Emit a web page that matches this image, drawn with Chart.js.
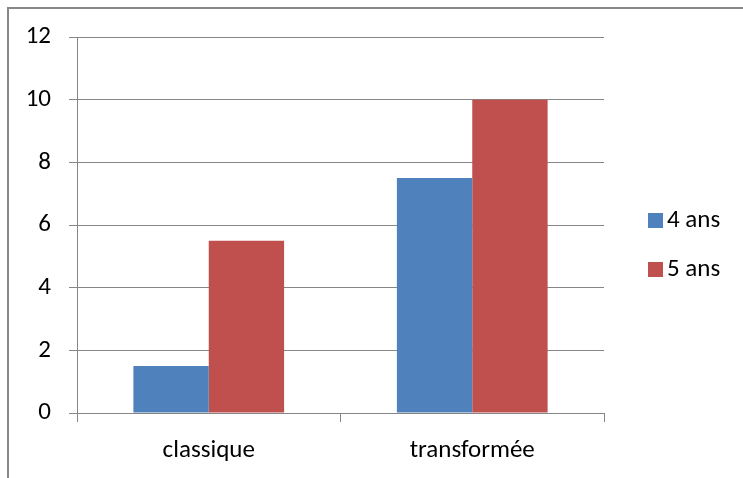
<!DOCTYPE html>
<html>
<head>
<meta charset="utf-8">
<script src="https://cdn.jsdelivr.net/npm/chart.js@4.4.1/dist/chart.umd.min.js"></script>
<style>
    html, body { margin: 0; padding: 0; background: #fff; }
    #wrap { width: 743px; height: 478px; position: relative; }
</style>
</head>
<body>
<div id="wrap"><canvas id="chart"></canvas></div>
<script>
// Data
const categories = ['classique', 'transformée'];
const series4 = [1.5, 7.5];
const series5 = [5.5, 10];
const seriesNames = ['4 ans', '5 ans'];
const yTicks = [0, 2, 4, 6, 8, 10, 12];

const FONT = 'Carlito, Lato, "Liberation Sans", sans-serif';
const GRID = '#868686';

// Frame + legend on the right
const decor = {
    id: 'decor',
    afterDraw(chart) {
        const c = chart.ctx;
        c.save();
        c.strokeStyle = '#888888';
        c.lineWidth = 2;
        c.beginPath();
        c.moveTo(8, 478);
        c.lineTo(8, 8);
        c.lineTo(743, 8);
        c.stroke();

        c.font = '25px ' + FONT;
        c.textBaseline = 'middle';
        c.textAlign = 'left';
        chart.data.datasets.forEach((ds, i) => {
            const y = 221 + i * 49;
            c.fillStyle = ds.backgroundColor;
            c.fillRect(648, y - 8, 15, 15);
            c.fillStyle = '#000';
            c.fillText(ds.label, 667, y);
        });
        c.restore();
    }
};

const ctx = document.getElementById('chart').getContext('2d');
new Chart(ctx, {
    type: 'bar',
    data: {
        labels: categories,
        datasets: [
            { label: seriesNames[0], data: series4, backgroundColor: '#4F81BD' },
            { label: seriesNames[1], data: series5, backgroundColor: '#C0504D' }
        ]
    },
    options: {
        responsive: true,
        maintainAspectRatio: false,
        animation: false,
        layout: { padding: { left: 0, top: 37, right: 139, bottom: 0 } },
        datasets: { bar: { categoryPercentage: 0.572, barPercentage: 1 } },
        plugins: { legend: { display: false }, tooltip: { enabled: false } },
        scales: {
            x: {
                grid: { offset: true, drawOnChartArea: false, color: GRID, tickLength: 9 },
                border: { color: GRID },
                ticks: { color: '#000', font: { family: FONT, size: 25 }, padding: 14 },
                afterFit(scale) { scale.height = 65; }
            },
            y: {
                min: 0,
                max: 12,
                afterBuildTicks(scale) { scale.ticks = yTicks.map(v => ({ value: v })); },
                grid: { color: GRID, tickLength: 8 },
                border: { color: GRID },
                ticks: { color: '#000', font: { family: FONT, size: 25 }, padding: 18 },
                afterFit(scale) { scale.width = 77; }
            }
        }
    },
    plugins: [decor]
});
</script>
</body>
</html>
